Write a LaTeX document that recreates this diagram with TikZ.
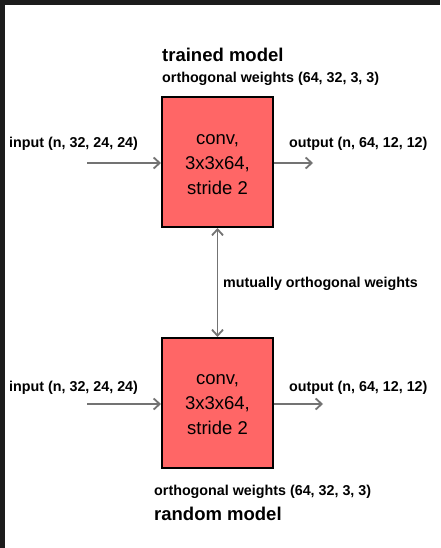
\documentclass[tikz,border=0pt]{standalone}
\usepackage{fontspec}
\setmainfont{Liberation Sans}
\usetikzlibrary{arrows.meta}
\definecolor{frame}{HTML}{1C1C1C}
\definecolor{convfill}{HTML}{FF6666}
\definecolor{wire}{HTML}{737373}
\tikzset{
  convbox/.style={draw=black, line width=2pt, fill=convfill, minimum width=111pt,
    minimum height=130pt, inner sep=0pt},
  convtext/.style={inner sep=0pt, align=center,
    font=\fontsize{18.5}{25}\selectfont},
  title/.style={anchor=base west, inner sep=0pt, font=\bfseries\fontsize{18.5}{22}\selectfont},
  tag/.style={anchor=base west, inner sep=0pt, font=\bfseries\fontsize{14.3}{17}\selectfont},
  flow/.style={draw=wire, line width=1.8pt, -{Straight Barb[length=6pt,width=11pt]}},
  bothways/.style={draw=wire, line width=1.8pt, {Straight Barb[length=6pt,width=11pt]}-{Straight Barb[length=6pt,width=11pt]}}
}
\begin{document}
\begin{tikzpicture}[x=1pt,y=-1pt]
  % page and dark frame edges
  \fill[white] (0,0) rectangle (440,548);
  \fill[frame] (0,0) rectangle (440,5);
  \fill[frame] (0,0) rectangle (5,548);
  \useasboundingbox (0,0) rectangle (440,548);

  % trained model
  \node[title] (ttitle) at (162,62) {trained model};
  \node[tag] (tweights) at (162,83) {orthogonal weights (64, 32, 3, 3)};
  \node[convbox] (tconv) at (217.5,162) {};
  \node[convtext] (tconvtext) at ([yshift=-3pt]tconv.center) {conv,\\3x3x64,\\stride 2};
  \node[tag] (tin) at (9,148) {input (n, 32, 24, 24)};
  \node[tag] (tout) at (289,148) {output (n, 64, 12, 12)};
  \coordinate (tsrc) at (87,163);
  \coordinate (tdst) at (313,163);
  \draw[flow] (tsrc) -- (tsrc -| tconv.west);
  \draw[flow] (tdst -| tconv.east) -- (tdst);

  % random model
  \node[convbox] (rconv) at (217.5,403) {};
  \node[convtext] (rconvtext) at ([yshift=-2pt]rconv.center) {conv,\\3x3x64,\\stride 2};
  \node[tag] (rin) at (9,391) {input (n, 32, 24, 24)};
  \node[tag] (rout) at (289,391) {output (n, 64, 12, 12)};
  \node[tag] (rweights) at (154,495) {orthogonal weights (64, 32, 3, 3)};
  \node[title] (rtitle) at (154,520) {random model};
  \coordinate (rsrc) at (87,404);
  \coordinate (rdst) at (323,404);
  \draw[flow] (rsrc) -- (rsrc -| rconv.west);
  \draw[flow] (rdst -| rconv.east) -- (rdst);

  % link between the two layers
  \draw[bothways] (tconv.south) -- (rconv.north);
  \node[tag] (link) at (223,287) {mutually orthogonal weights};
\end{tikzpicture}
\end{document}
